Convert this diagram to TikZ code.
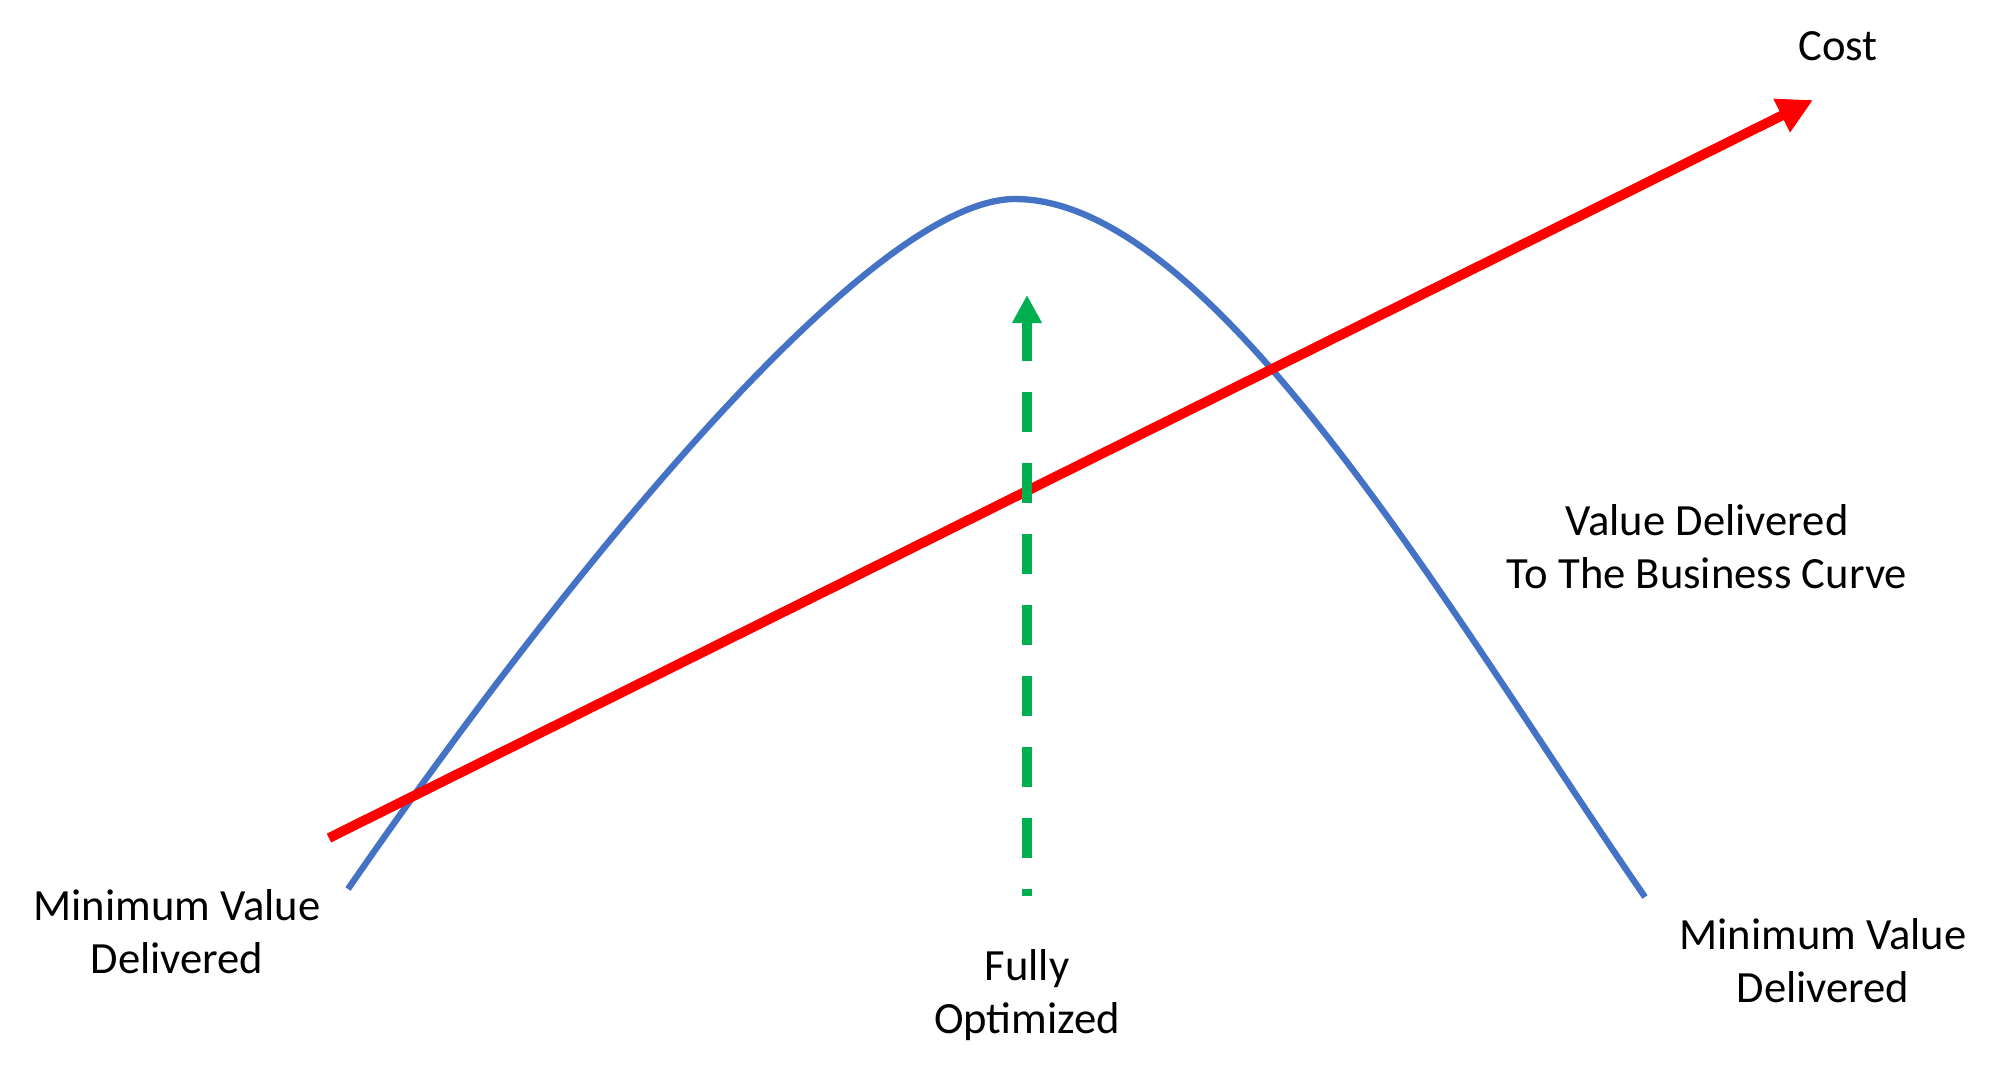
\documentclass[tikz,border=0pt]{standalone}
\usepackage{fontspec}
\setmainfont{Carlito}
\usepackage{xcolor}
\usepackage{tikz}
\usetikzlibrary{positioning,arrows.meta}

\definecolor{valueblue}{HTML}{4472C4}
\definecolor{costred}{HTML}{FF0000}
\definecolor{optgreen}{HTML}{00B050}

\begin{document}
\begin{tikzpicture}[
      x=0.1mm, y=-0.1mm,
      label/.style={align=center,anchor=base,inner sep=0pt,font=\fontsize{12.7}{15}\selectfont},
      valuecurve/.style={draw=valueblue,line width=1.8pt},
      costline/.style={draw=costred,line width=2.8pt,-{Triangle[length=3.5mm,width=3.5mm]}},
      optline/.style={draw=optgreen,line width=2.6pt,dash pattern=on 4mm off 3.1mm,{Triangle[length=2.8mm,width=2.8mm]}-},
    ]
    \useasboundingbox (0,0) rectangle (2000,1080);

    % Points
    \coordinate (vstart) at (348,889);
    \coordinate (vpeak) at (1015,199);
    \coordinate (vend) at (1645,897);
    \coordinate (cstart) at (329,838);
    \coordinate (ctip) at (1813,100);
    \coordinate (otip) at (1027,295);
    \coordinate (obase) at (1027,896);

    % Labels (base = last line)
    \node[label] (cost) at (1838,60) {Cost};
    \node[label] (curve) at (1707,588) {Value Delivered\\To The Business Curve};
    \node[label] (minleft) at (177,973) {Minimum Value\\Delivered};
    \node[label] (minright) at (1823,1002) {Minimum Value\\Delivered};
    \node[label] (opt) at (1027,1033) {Fully\\Optimized};

    % Curves
    \path[valuecurve] (vstart) .. controls (548,599) and (865,199) .. (vpeak)
                               .. controls (1215,199) and (1455,622) .. (vend);
    \path[costline] (cstart) -- (ctip);
    \path[optline] (otip) -- (obase);
  \end{tikzpicture}
\end{document}
